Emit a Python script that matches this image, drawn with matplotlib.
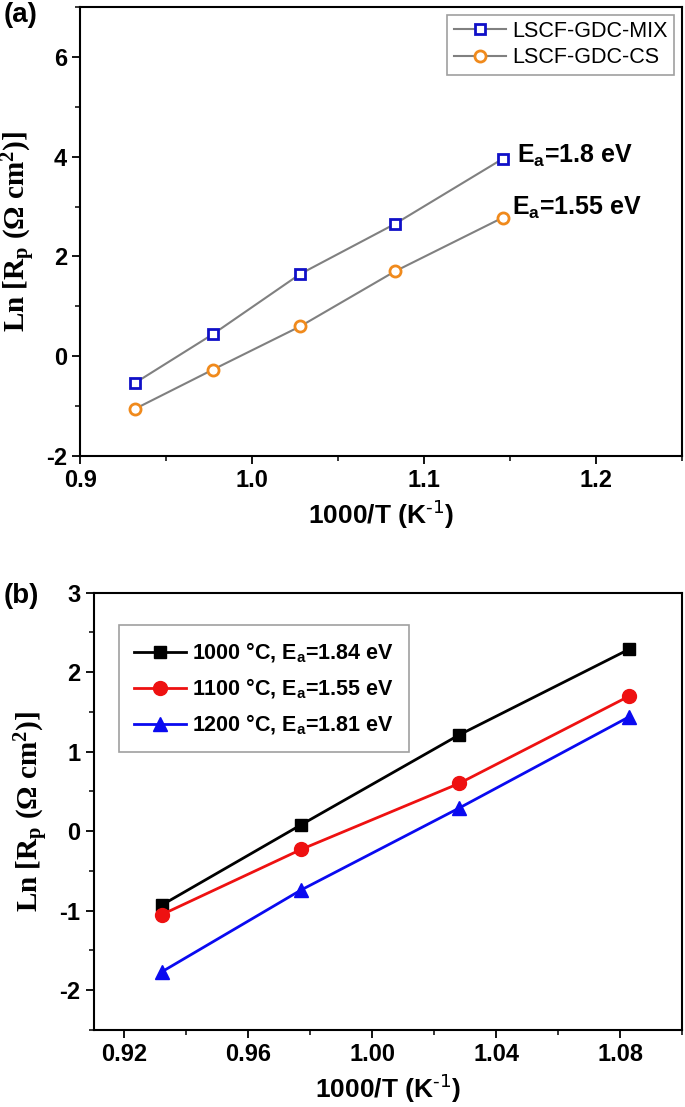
import numpy as np
import matplotlib.pyplot as plt
from matplotlib.ticker import MultipleLocator

plt.rcParams['font.family'] = ['Liberation Sans', 'DejaVu Sans']
plt.rcParams['mathtext.default'] = 'regular'
plt.rcParams['axes.unicode_minus'] = False

# panel (a) data
x_a = [0.932, 0.977, 1.028, 1.083, 1.146]
mix = [-0.53, 0.44, 1.65, 2.65, 3.96]
cs = [-1.05, -0.27, 0.60, 1.70, 2.78]
labels_a = ['LSCF-GDC-MIX', 'LSCF-GDC-CS']
ea_a = ['E$_\\mathregular{a}$=1.8 eV', 'E$_\\mathregular{a}$=1.55 eV']

# panel (b) data
x_b = [0.932, 0.977, 1.028, 1.083]
t1000 = [-0.93, 0.08, 1.21, 2.29]
t1100 = [-1.05, -0.23, 0.60, 1.70]
t1200 = [-1.77, -0.74, 0.29, 1.44]
labels_b = ['1000 °C, E$_\\mathregular{a}$=1.84 eV',
            '1100 °C, E$_\\mathregular{a}$=1.55 eV',
            '1200 °C, E$_\\mathregular{a}$=1.81 eV']

fig = plt.figure(figsize=(6.85, 11.07), dpi=100)
ax1 = fig.add_axes([0.1174, 0.588, 0.8776, 0.4057])
ax2 = fig.add_axes([0.1365, 0.0696, 0.8591, 0.395])

ylab = 'Ln [R$_\\mathregular{p}$ (Ω cm$^\\mathregular{2}$)]'
xlab = '1000/T (K$^\\text{-1}$)'

# (a)
ax1.plot(x_a, mix, '-s', color='#808080', lw=1.5, mfc='white', mec='#1010c8',
         mew=2, ms=7, label=labels_a[0])
ax1.plot(x_a, cs, '-o', color='#808080', lw=1.5, mfc='white', mec='#f08a1c',
         mew=2, ms=8, label=labels_a[1])
ax1.text(x_a[-1] + 0.008, mix[-1] + 0.05, ea_a[0], fontsize=18, fontweight='bold',
         va='center', ha='left')
ax1.text(x_a[-1] + 0.005, cs[-1] + 0.2, ea_a[1], fontsize=18, fontweight='bold',
         va='center', ha='left')
ax1.set_xlim(0.9, 1.25)
ax1.set_ylim(-2, 7)
ax1.xaxis.set_minor_locator(MultipleLocator(0.05))
ax1.yaxis.set_major_locator(MultipleLocator(2))
ax1.yaxis.set_minor_locator(MultipleLocator(1))
ax1.set_xticks([0.9, 1.0, 1.1, 1.2])
ax1.set_xticklabels(['0.9', '1.0', '1.1', '1.2'])
leg1 = ax1.legend(loc='upper right', fontsize=15.5, frameon=True, fancybox=False,
                  edgecolor='#888888', handlelength=2.4, borderaxespad=0.35,
                  labelspacing=0.25, handletextpad=0.3, borderpad=0.3)
leg1.get_frame().set_linewidth(1.2)

# (b)
ax2.plot(x_b, t1000, '-s', color='black', lw=2, ms=9, label=labels_b[0])
ax2.plot(x_b, t1100, '-o', color='#ee1111', lw=2, ms=10, label=labels_b[1])
ax2.plot(x_b, t1200, '-^', color='#0a0af0', lw=2, ms=10, label=labels_b[2])
ax2.set_xlim(0.91, 1.10)
ax2.set_ylim(-2.5, 3)
ax2.set_xticks([0.92, 0.96, 1.00, 1.04, 1.08])
ax2.set_xticklabels(['0.92', '0.96', '1.00', '1.04', '1.08'])
ax2.xaxis.set_minor_locator(MultipleLocator(0.02))
ax2.yaxis.set_major_locator(MultipleLocator(1))
ax2.yaxis.set_minor_locator(MultipleLocator(0.5))
leg2 = ax2.legend(loc='upper left', bbox_to_anchor=(0.043, 0.925),
                  frameon=True, fancybox=False, edgecolor='#888888',
                  handlelength=2.4, labelspacing=0.55, handletextpad=0.3,
                  borderpad=0.7, borderaxespad=0.0,
                  prop={'weight': 'bold', 'size': 15.5})
leg2.get_frame().set_linewidth(1.2)

for ax in (ax1, ax2):
    for s in ax.spines.values():
        s.set_linewidth(1.5)
    ax.tick_params(which='major', direction='out', length=6, width=1.3,
                   labelsize=17, top=False, right=False)
    ax.tick_params(which='minor', direction='out', length=3.5, width=1.1,
                   top=False, right=False)
    for lb in ax.get_xticklabels() + ax.get_yticklabels():
        lb.set_fontweight('bold')
    ax.set_xlabel(xlab, fontsize=19, fontweight='bold', labelpad=4)
    ax.set_ylabel(ylab, fontsize=21, fontweight='bold',
                  family=['Liberation Serif', 'DejaVu Serif'], labelpad=6)

fig.text(0.005, 0.998, '(a)', fontsize=20, fontweight='bold', va='top')
fig.text(0.005, 0.473, '(b)', fontsize=20, fontweight='bold', va='top')

fig.savefig('out.png', dpi=100)
